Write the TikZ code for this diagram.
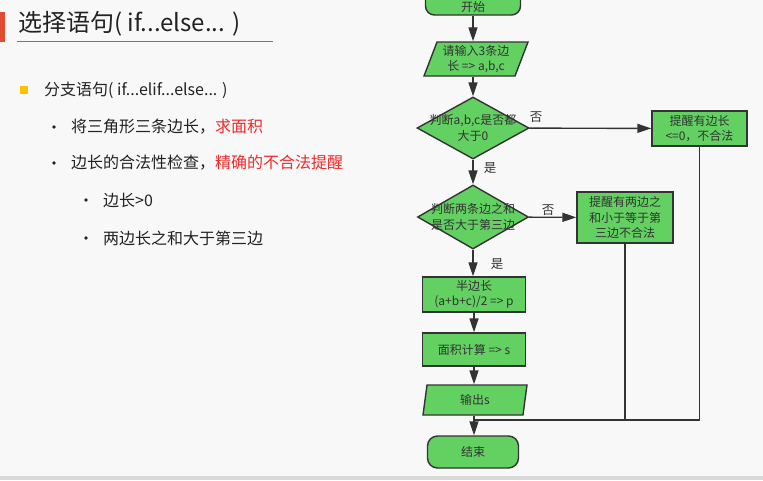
\documentclass[tikz,border=0pt]{standalone}
\usepackage{fontspec}
\setmainfont{Noto Sans CJK SC}
\usetikzlibrary{arrows.meta,shapes.geometric}
\definecolor{fgreen}{HTML}{62D162}
\definecolor{lineC}{HTML}{333333}
\definecolor{txtC}{HTML}{333333}
\definecolor{bodyC}{HTML}{222222}
\definecolor{hiC}{HTML}{F02A2A}
\definecolor{barC}{HTML}{E24A33}
\definecolor{ulC}{HTML}{D9542C}
\definecolor{sqC}{HTML}{FFC000}
\definecolor{bgC}{HTML}{F8F8F8}
\definecolor{stripC}{HTML}{D9D9D9}
\newcommand{\flowfont}{\fontsize{12}{15.5}\selectfont}
\newcommand{\bodyfont}{\fontsize{16}{19}\selectfont}
\tikzset{
  fbox/.style={draw=lineC, fill=fgreen, line width=1.4pt, text=txtC, font=\flowfont, align=center, inner sep=0pt},
  term/.style={fbox, rounded corners=9pt},
  io/.style={fbox, trapezium, trapezium stretches body, minimum width=104pt},
  dia/.style={draw=lineC, fill=fgreen, line width=1.4pt, diamond, inner sep=0pt},
  ftext/.style={text=txtC, font=\flowfont, align=center, inner sep=0pt},
  flow/.style={draw=lineC, line width=1.4pt},
  arr/.style={flow, -{Triangle[length=14pt,width=9pt]}},
  lab/.style={text=txtC, font=\fontsize{12.5}{14}\selectfont, inner sep=0pt},
  body/.style={text=bodyC, font=\bodyfont, anchor=west, inner sep=0pt},
  dot/.style={circle, fill=bodyC, minimum size=3.6pt, inner sep=0pt},
}
\begin{document}
\begin{tikzpicture}[x=1pt,y=-1pt]
\useasboundingbox (0,0) rectangle (763,480);
\fill[bgC] (0,0) rectangle (763,480);
\fill[stripC] (0,476) rectangle (763,480);

% title
\fill[barC] (0,12) rectangle (5,42);
\node[anchor=base west, text=bodyC, font=\fontsize{24}{28}\selectfont, inner sep=0pt] (title) at (18,31) {选择语句( if...else... )};
\draw[ulC, line width=1pt] (17,41) -- (273,41);

% bullets
\fill[sqC] (20,86) rectangle (28,94);
\node[body] (t1) at (44,90) {分支语句( if...elif...else... )};
\node[dot] (d2a) at (54,127) {};
\node[body] (t2) at (71,127) {将三角形三条边长，\textcolor{hiC}{求面积}};
\node[dot] (d2b) at (54,163) {};
\node[body] (t3) at (71,163) {边长的合法性检查，\textcolor{hiC}{精确的不合法提醒}};
\node[dot] (d3a) at (86,200) {};
\node[body] (t4) at (103,200) {边长>0};
\node[dot] (d3b) at (86,238) {};
\node[body] (t5) at (103,238) {两边长之和大于第三边};

% flowchart nodes
\node[term, minimum width=95pt, minimum height=28pt] (start) at (473,1) {};
\node[ftext] (startt) at (473,7) {开始};
\node[io, minimum height=34pt, trapezium left angle=65, trapezium right angle=115] (in) at (476,59) {请输入3条边\\长 => a,b,c};
\node[dia, minimum width=112pt, minimum height=62pt] (d1) at (473,128) {};
\node[ftext] (d1t) at (d1.center) {判断a,b,c是否都\\大于0};
\node[fbox, minimum width=95pt, minimum height=35pt] (b1) at (699.5,128.5) {提醒有边长\\<=0，不合法};
\node[dia, minimum width=111pt, minimum height=64pt] (d2) at (473,217) {};
\node[ftext] (d2t) at (d2.center) {判断两条边之和\\是否大于第三边};
\node[fbox, minimum width=96pt, minimum height=51pt] (b2) at (625,217.5) {提醒有两边之\\和小于等于第\\三边不合法};
\node[fbox, minimum width=103pt, minimum height=35pt] (p) at (474,294.5) {半边长\\(a+b+c)/2 => p};
\node[fbox, minimum width=103pt, minimum height=33pt] (s) at (474,349.5) {面积计算 => s};
\node[io, minimum height=30pt, trapezium left angle=70, trapezium right angle=110] (out) at (475,400) {输出s};
\node[term, minimum width=91pt, minimum height=32pt, rounded corners=10pt] (end) at (473,452) {结束};
\coordinate (m) at (474,420);

% labels
\node[lab] (no1) at (536,117) {否};
\node[lab] (yes1) at (490,168) {是};
\node[lab] (no2) at (548,210) {否};
\node[lab] (yes2) at (497,264) {是};

% connectors
\draw[arr] (start.south) -- (start.south |- in.north);
\draw[arr] (d1.north |- in.south) -- (d1.north);
\draw[arr] (d1) -- (d2);
\draw[arr] (d1) -- (b1);
\draw[arr] (d2) -- (b2);
\draw[arr] (d2.south) -- (d2.south |- p.north);
\draw[arr] (p) -- (s);
\draw[arr] (s.south) -- (s.south |- out.north);
\draw[arr] (m |- out.south) -- (m |- end.north);
\draw[flow] (b1.south) |- (m);
\draw[flow] (b2.south) -- (b2.south |- m);
\end{tikzpicture}
\end{document}
